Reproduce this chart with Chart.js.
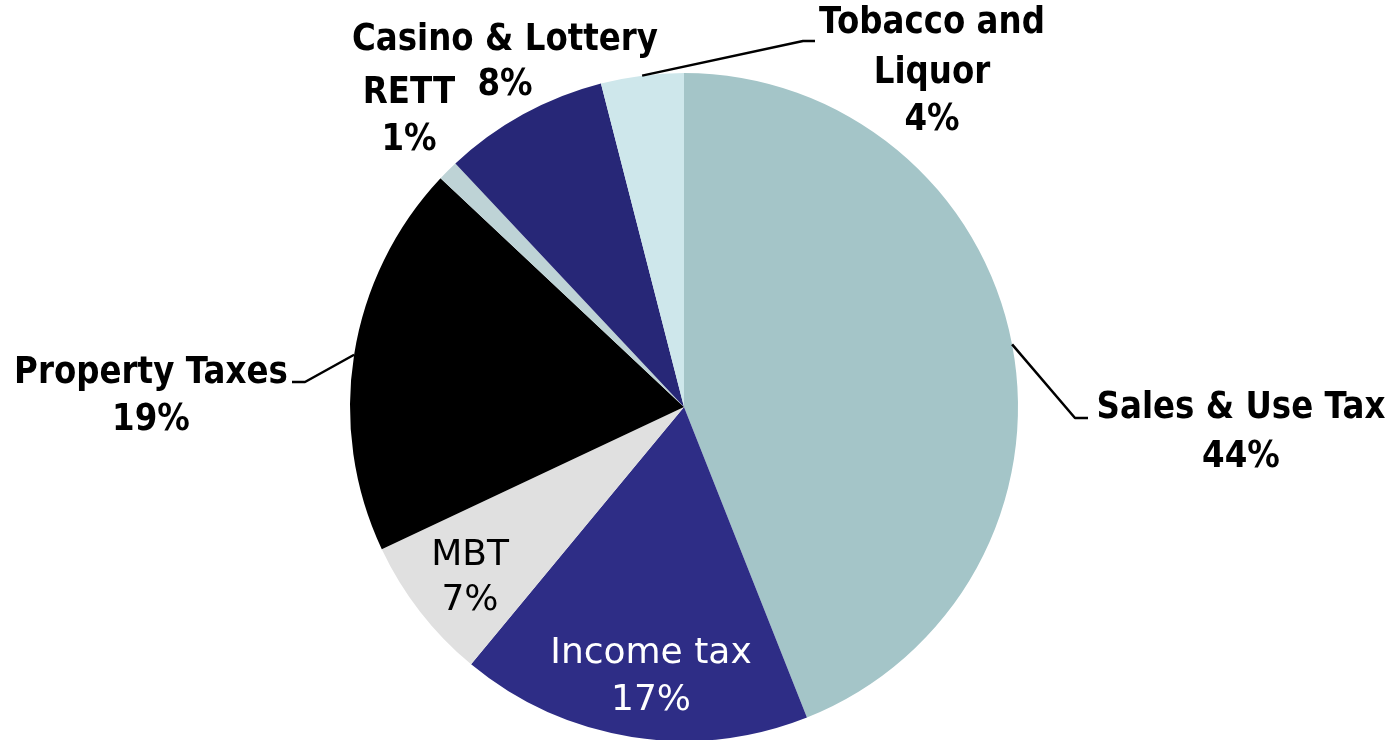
<!DOCTYPE html>
<html>
<head>
<meta charset="utf-8">
<script src="https://cdn.jsdelivr.net/npm/chart.js@4.4.1/dist/chart.umd.min.js"></script>
<style>
html,body{margin:0;padding:0;background:#fff;overflow:hidden;}
#wrap{width:1399px;height:760px;}
</style>
</head>
<body>
<div id="wrap"><canvas id="c" width="1399" height="760"></canvas></div>
<script>
// ---- data ----
const categories = ['Sales & Use Tax', 'Income tax', 'MBT', 'Property Taxes', 'RETT', 'Casino & Lottery', 'Tobacco and Liquor'];
const shares = [44, 17, 7, 19, 1, 8, 4];
const sliceColors = ['#A4C5C8', '#2E2D86', '#E0E0E0', '#000000', '#BED3D6', '#272777', '#CEE7EB'];

// ---- label layout (text placement only) ----
const labelLayout = [
  {lines: ['Sales & Use Tax'], x: 1241, base: [418, 467], bold: true, color: '#000', leader: {elbow: [1075, 418], end: [1088, 418]}},
  {lines: ['Income tax'], x: 651, base: [663, 710], bold: false, color: '#fff'},
  {lines: ['MBT'], x: 470, base: [565, 610], bold: false, color: '#000'},
  {lines: ['Property Taxes'], x: 151, base: [383, 430], bold: true, color: '#000', leader: {elbow: [305, 382], end: [292, 382]}},
  {lines: ['RETT'], x: 409, base: [103, 150], bold: true, color: '#000'},
  {lines: ['Casino & Lottery'], x: 505, base: [50, 95], bold: true, color: '#000'},
  {lines: ['Tobacco and', 'Liquor'], x: 932, base: [33, 83, 130], bold: true, color: '#000', leader: {elbow: [803, 41], end: [815, 41]}}
];

const labelPlugin = {
  id: 'pieLabels',
  afterDatasetsDraw(chart) {
    const ctx = chart.ctx;
    const meta = chart.getDatasetMeta(0);
    const vals = chart.data.datasets[0].data;
    meta.data.forEach((arc, i) => {
      const L = labelLayout[i];
      const p = arc.getProps(['x', 'y', 'startAngle', 'endAngle', 'outerRadius'], true);
      if (L.leader) {
        const mid = (p.startAngle + p.endAngle) / 2;
        const sx = p.x + Math.cos(mid) * p.outerRadius;
        const sy = p.y + Math.sin(mid) * p.outerRadius;
        ctx.save();
        ctx.strokeStyle = '#000';
        ctx.lineWidth = 2.5;
        ctx.lineJoin = 'round';
        ctx.beginPath();
        ctx.moveTo(sx, sy);
        ctx.lineTo(L.leader.elbow[0], L.leader.elbow[1]);
        ctx.lineTo(L.leader.end[0], L.leader.end[1]);
        ctx.stroke();
        ctx.restore();
      }
      const texts = L.lines.concat([vals[i] + '%']);
      ctx.save();
      ctx.fillStyle = L.color;
      ctx.textAlign = 'center';
      ctx.textBaseline = 'alphabetic';
      texts.forEach((t, k) => {
        ctx.save();
        ctx.translate(L.x, L.base[k]);
        if (L.bold) {
          ctx.font = 'bold 32.5px "DejaVu Sans", Verdana, sans-serif';
          ctx.scale(1, 1.17);
        } else {
          ctx.font = '36px "DejaVu Sans", Verdana, sans-serif';
        }
        ctx.fillText(t, 0, 0);
        ctx.restore();
      });
      ctx.restore();
    });
  }
};

new Chart(document.getElementById('c'), {
  type: 'pie',
  data: {
    labels: categories,
    datasets: [{
      data: shares,
      backgroundColor: sliceColors,
      borderWidth: 0
    }]
  },
  options: {
    responsive: false,
    animation: false,
    layout: {padding: {left: 350, right: 381, top: 73, bottom: 19}},
    plugins: {legend: {display: false}, tooltip: {enabled: false}},
    events: []
  },
  plugins: [labelPlugin]
});
</script>
</body>
</html>
